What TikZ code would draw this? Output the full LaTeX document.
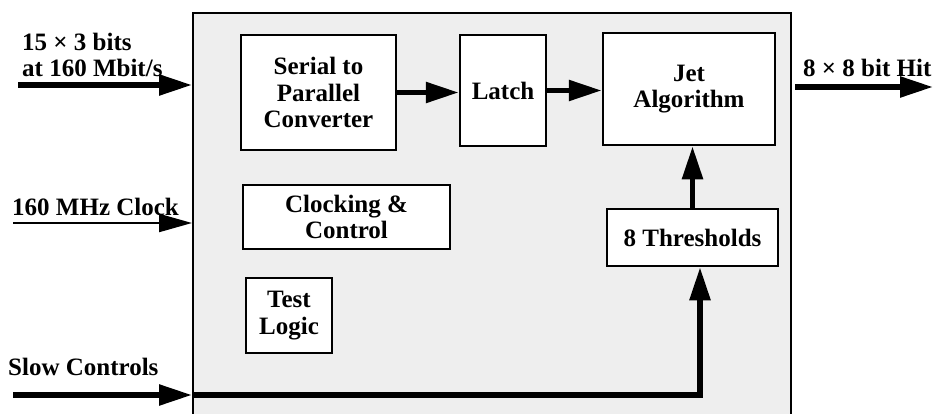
\documentclass[tikz,border=0pt]{standalone}
\usepackage{fontspec}
\setmainfont{Liberation Serif}
\usetikzlibrary{arrows.meta,positioning}
\definecolor{boxGray}{RGB}{238,238,238}

\begin{document}
\begin{tikzpicture}[x=1pt, y=-1pt, font=\fontsize{25}{26.5}\selectfont\bfseries]

% styles des noeuds
\tikzstyle{block}=[rectangle, draw, line width=2.5pt, fill=white, align=center, inner sep=0pt]
\tikzstyle{textLine}=[rectangle, align=left, inner sep=0pt]

% styles des fleches
\tikzstyle{bigArrow}=[-{Triangle[length=33pt,width=20pt]}, line width=5.5pt]
\tikzstyle{thinArrow}=[-{Triangle[length=33pt,width=18pt]}, line width=2.2pt]

\useasboundingbox (0,0) rectangle (933,414);
\clip (0,0) rectangle (933,414);

% boitier
\node[block, fill=boxGray, line width=2pt, minimum width=598pt, minimum height=430pt] (chip) at (492,228) {};

% blocs internes
\node[block, minimum width=155pt, minimum height=115pt] (serial) at (318.5,92.5) {Serial to\\Parallel\\Converter};
\node[block, minimum width=86pt, minimum height=111pt] (latch) at (503,90.5) {Latch};
\node[block, minimum width=172pt, minimum height=112pt] (jet) at (689,89) {Jet\\Algorithm};
\node[block, minimum width=207pt, minimum height=64pt] (clocking) at (346.5,217) {Clocking \&\\Control};
\node[block, minimum width=86pt, minimum height=75pt] (test) at (289,315.5) {Test\\Logic};
\node[block, minimum width=171pt, minimum height=57pt] (thresh) at (692.5,237.5) {8 Thresholds};

% entrees / sorties
\coordinate (dataIn) at (18,85);
\coordinate (hitStart) at (795,87);
\coordinate (hitEnd) at (933,87);
\coordinate (clockIn) at (13,223);
\coordinate (slowIn) at (13,395);

\node[textLine, above right=8pt and 4pt of dataIn] (dataLbl) {15 × 3 bits\\at 160 Mbit/s};
\node[textLine, above right=10pt and 8pt of hitStart] (hitLbl) {8 × 8 bit Hit};
\node[textLine, above right=7pt and -1pt of clockIn] (clockLbl) {160 MHz Clock};
\node[textLine, above right=19pt and -5pt of slowIn] (slowLbl) {Slow Controls};

% fleches
\draw[bigArrow] (dataIn) -- (dataIn -| chip.west);
\draw[bigArrow] (serial.east) -- (serial.east -| latch.west);
\draw[bigArrow] (latch.east) -- (latch.east -| jet.west);
\draw[bigArrow] (thresh.north) -- (thresh.north |- jet.south);
\draw[bigArrow] (hitStart) -- (hitEnd);
\draw[thinArrow] (clockIn) -- (clockIn -| chip.west);
\draw[bigArrow] (slowIn) -- (slowIn -| chip.west);
\draw[bigArrow] (slowIn -| chip.west) -| ([xshift=7.5pt]thresh.south);

\end{tikzpicture}
\end{document}
